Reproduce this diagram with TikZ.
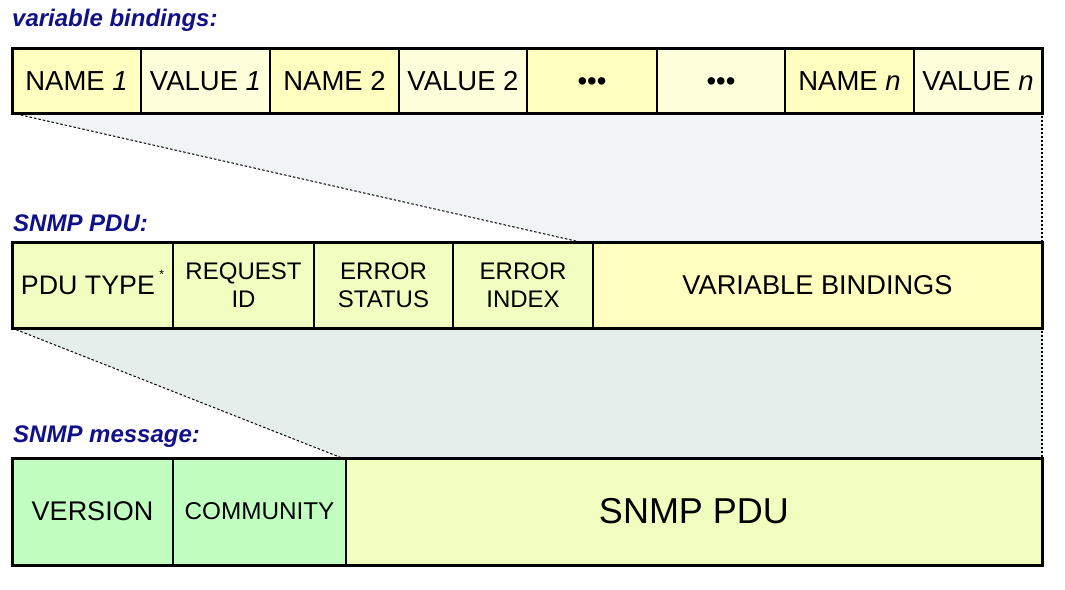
\documentclass[tikz,border=0pt]{standalone}
\usepackage{fontspec}
\setmainfont{Liberation Sans}
\usetikzlibrary{backgrounds}
\definecolor{nameY}{RGB}{255,255,192}
\definecolor{valY}{RGB}{255,255,220}
\definecolor{pduG}{RGB}{240,255,192}
\definecolor{bindY}{RGB}{255,255,192}
\definecolor{msgG}{RGB}{192,255,192}
\definecolor{zoomA}{RGB}{241,244,244}
\definecolor{zoomB}{RGB}{230,238,235}
\definecolor{titleblue}{RGB}{16,16,136}
\begin{document}
\begin{tikzpicture}[x=1pt,y=-1pt,
  cell/.style={draw, line width=1.2pt, inner sep=0pt, outer sep=0pt,
    anchor=north west, align=center, text=black},
  toprow/.style={cell, minimum height=65pt, text height=19.7pt, text depth=0pt,
    font=\fontsize{27.5}{30}\selectfont},
  midrow/.style={cell, minimum height=86pt, font=\fontsize{24}{28}\selectfont},
  botrow/.style={cell, minimum height=107pt},
  frame/.style={line width=3pt},
  sep/.style={line width=2.4pt},
  zoomline/.style={line width=1pt, dash pattern=on 2.5pt off 2pt},
  zoomedge/.style={line width=2.2pt, dash pattern=on 2pt off 2pt},
  title/.style={anchor=base west, inner sep=0pt, text=titleblue,
    font=\fontsize{24}{28}\selectfont\bfseries\itshape}]
\useasboundingbox (0,0) rectangle (1065,589);

% headings
\node[title] (t1) at (12,26) {variable bindings:};
\node[title] (t2) at (13,231) {SNMP PDU:};
\node[title] (t3) at (13,442) {SNMP message:};

% variable bindings row
\node[toprow, fill=nameY, minimum width=129pt] (n1) at (12,48) {NAME \textit{1}};
\node[toprow, fill=valY,  minimum width=129pt] (v1) at (141,48) {VALUE \textit{1}};
\node[toprow, fill=nameY, minimum width=129pt] (n2) at (270,48) {NAME 2};
\node[toprow, fill=valY,  minimum width=128pt] (v2) at (399,48) {VALUE 2};
\node[toprow, fill=nameY, minimum width=130pt] (nd) at (527,48) {•••};
\node[toprow, fill=valY,  minimum width=128pt] (vd) at (657,48) {•••};
\node[toprow, fill=nameY, minimum width=129pt] (nn) at (785,48) {NAME \textit{n}};
\node[toprow, fill=valY,  minimum width=128pt] (vn) at (914,48) {VALUE \textit{n}};
\draw[frame] (n1.north west) rectangle (vn.south east);
\foreach \c in {v1,v2,vd}
  \draw[sep] (\c.north east) -- (\c.south east);

% SNMP PDU row
\node[midrow, fill=pduG, minimum width=161pt, font=\fontsize{26.8}{30}\selectfont] (pt) at (12,242)
  {PDU TYPE\,\smash{\raisebox{16pt}{\fontsize{12}{12}\selectfont*}}};
\node[midrow, fill=pduG, minimum width=141pt] (rid) at (173,242) {REQUEST\\ID};
\node[midrow, fill=pduG, minimum width=139pt] (est) at (314,242) {ERROR\\STATUS};
\node[midrow, fill=pduG, minimum width=140pt] (eix) at (453,242) {ERROR\\INDEX};
\node[midrow, fill=bindY, minimum width=449pt, font=\fontsize{27.2}{30}\selectfont] (vb) at (593,242) {VARIABLE BINDINGS};
\draw[frame] (pt.north west) rectangle (vb.south east);
\foreach \c in {pt,rid}
  \draw[sep] (\c.north east) -- (\c.south east);

% SNMP message row
\node[botrow, fill=msgG, minimum width=161pt, font=\fontsize{27}{30}\selectfont] (ver) at (12,458) {VERSION};
\node[botrow, fill=msgG, minimum width=173pt, font=\fontsize{24.3}{28}\selectfont] (com) at (173,458) {COMMUNITY};
\node[botrow, fill=pduG, minimum width=696pt, font=\fontsize{36}{40}\selectfont] (pdu) at (346,458) {SNMP PDU};
\draw[frame] (ver.north west) rectangle (pdu.south east);

% expansion wedges
\coordinate (za) at (580,242);
\coordinate (zb) at (342,458);
\begin{scope}[on background layer]
  \fill[zoomA] (n1.south west) -- (vn.south east) -- (vb.north east) -- (za) -- cycle;
  \fill[zoomB] (pt.south west) -- (vb.south east) -- (pdu.north east) -- (zb) -- cycle;
\end{scope}
\draw[zoomline] (n1.south west) -- (za);
\draw[zoomline] (pt.south west) -- (zb);
\draw[zoomedge] ([yshift=1.5pt]vn.south east) -- ([yshift=-1.5pt]vb.north east);
\draw[zoomedge] ([yshift=1.5pt]vb.south east) -- ([yshift=-1.5pt]pdu.north east);
\end{tikzpicture}
\end{document}
